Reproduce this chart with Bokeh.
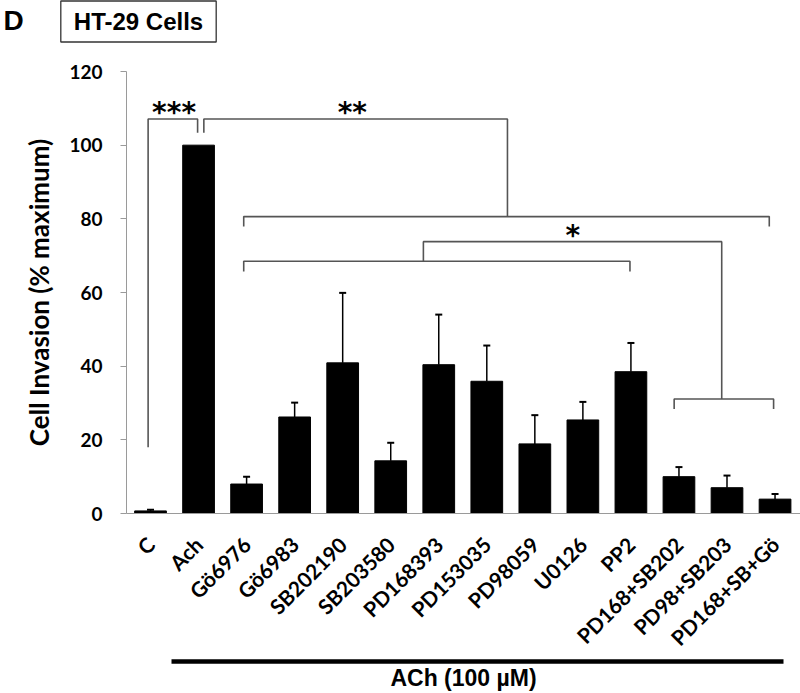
import math
from bokeh.plotting import figure
from bokeh.models import (ColumnDataSource, FixedTicker, Whisker, TeeHead,
                          Label, LinearAxis)
from bokeh.core.properties import value
from bokeh.embed import file_html
from bokeh.resources import INLINE

# ---------------- data ----------------
categories = ["C", "Ach", "Gö6976", "Gö6983", "SB202190", "SB203580", "PD168393",
              "PD153035", "PD98059", "U0126", "PP2", "PD168+SB202", "PD98+SB203",
              "PD168+SB+Gö"]
invasion = [0.7, 100.0, 8.0, 26.2, 40.9, 14.3, 40.4, 35.9, 18.9, 25.4, 38.5, 10.0, 7.0, 3.9]
sem = [0.3, 0.0, 2.0, 3.9, 19.0, 4.9, 13.6, 9.7, 7.8, 4.9, 7.8, 2.6, 3.3, 1.4]
y_ticks = [0, 20, 40, 60, 80, 100, 120]

# significance brackets (category-index x, value y)
br_x0 = [-0.05, 1.11, 1.94, 1.94, 5.68, 10.90]
br_x1 = [0.98, 7.43, 12.88, 9.98, 11.89, 12.97]
br_top = [107.1, 107.1, 80.6, 68.5, 73.8, 31.1]
br_left_end = [18.0, 103.4, 77.9, 65.7, 68.5, 28.4]
br_right_end = [103.4, 80.6, 77.9, 65.7, 31.1, 28.4]

star_text = ["***", "**", "*"]
star_x = [0.49, 4.2, 8.79]
star_y = [109.0, 109.0, 75.5]

treat_label = "ACh (100 µM)"
treat_x0, treat_x1 = 0.44, 13.18
panel_letter = "D"
cell_line = "HT-29 Cells"

# ---------------- figure ----------------
p = figure(width=800, height=693, x_range=(-0.5, 13.53), y_range=(0, 120),
           output_backend="svg", toolbar_location=None,
           min_border_left=124, min_border_right=0, min_border_top=71,
           min_border_bottom=180)
p.outline_line_color = None
p.grid.visible = False

xs = list(range(len(categories)))
src = ColumnDataSource(dict(x=xs, top=invasion))
p.vbar(x="x", top="top", width=0.66, source=src, fill_color="black", line_color="black")

err_idx = [i for i, e in enumerate(sem) if e > 0]
err_src = ColumnDataSource(dict(x=[xs[i] for i in err_idx],
                                low=[invasion[i] for i in err_idx],
                                up=[invasion[i] + sem[i] for i in err_idx]))
p.add_layout(Whisker(base="x", upper="up", lower="low", source=err_src,
                     dimension="height", line_color="black", line_width=1.5,
                     upper_head=TeeHead(size=7, line_color="black", line_width=2),
                     lower_head=None))

bx, by = [], []
for x0, x1, t, le, re in zip(br_x0, br_x1, br_top, br_left_end, br_right_end):
    bx.append([x0, x0, x1, x1])
    by.append([le, t, t, re])
p.multi_line(xs=bx, ys=by, line_color="#555555", line_width=1.6)

p.text(x=star_x, y=star_y, text=star_text, text_font=value("DejaVu Sans"),
       text_font_style="bold", text_font_size="28px", text_align="center",
       text_baseline="alphabetic", text_color="black")

ax = p.xaxis[0]
ax.ticker = FixedTicker(ticks=xs)
ax.major_label_overrides = {i: c for i, c in enumerate(categories)}
ax.major_label_orientation = math.pi / 4
ax.major_tick_line_color = None
ax.minor_tick_line_color = None
ax.axis_line_color = "#9a9a9a"
ax.major_label_text_font = "Lato"
ax.major_label_text_font_style = "bold"
ax.major_label_text_font_size = "21px"
ax.major_label_text_color = "black"
ax.major_label_standoff = 21

ay = p.yaxis[0]
ay.ticker = FixedTicker(ticks=y_ticks)
ay.minor_tick_line_color = None
ay.axis_line_color = "#9a9a9a"
ay.major_tick_line_color = "#9a9a9a"
ay.major_tick_out = 6
ay.major_tick_in = 0
ay.major_label_standoff = 18
ay.major_label_text_font = "Lato"
ay.major_label_text_font_style = "bold"
ay.major_label_text_font_size = "19px"
ay.major_label_text_color = "black"
ay.axis_label = "Cell Invasion (% maximum)"
ay.axis_label_text_font = "Lato"
ay.axis_label_text_font_style = "bold"
ay.axis_label_text_font_size = "26px"
ay.axis_label_text_color = "black"
ay.axis_label_standoff = 11

# treatment bar: a second, tick-less axis below the category labels
treat_axis = LinearAxis(bounds=(treat_x0, treat_x1), ticker=FixedTicker(ticks=[]),
                        axis_line_color="black", axis_line_width=4.5,
                        major_tick_line_color=None, minor_tick_line_color=None,
                        major_tick_out=0, major_tick_in=0,
                        major_label_standoff=0, major_label_text_font_size="0px",
                        axis_label=treat_label, axis_label_standoff=3,
                        axis_label_text_font="Liberation Sans",
                        axis_label_text_font_style="bold",
                        axis_label_text_font_size="23px",
                        axis_label_text_color="black")
p.add_layout(treat_axis, "below")

# cell-line box in the top margin (screen px from the frame's top-left)
p.add_layout(Label(x=12, y=50, x_units="screen", y_units="screen",
                   text=cell_line, text_align="center", text_baseline="middle",
                   text_font="Liberation Sans", text_font_style="bold",
                   text_font_size="24px", text_color="black",
                   border_line_color="#333333", border_line_width=1.3,
                   background_fill_color="white", padding=dict(x=13, y=7)), "above")
# panel letter in the left margin
p.add_layout(Label(x=3, y=493, x_units="screen", y_units="screen",
                   text=panel_letter, text_align="left", text_baseline="middle",
                   text_font="Liberation Sans", text_font_style="bold",
                   text_font_size="28px", text_color="black"), "left")

open("out.html", "w").write(file_html(p, INLINE))
